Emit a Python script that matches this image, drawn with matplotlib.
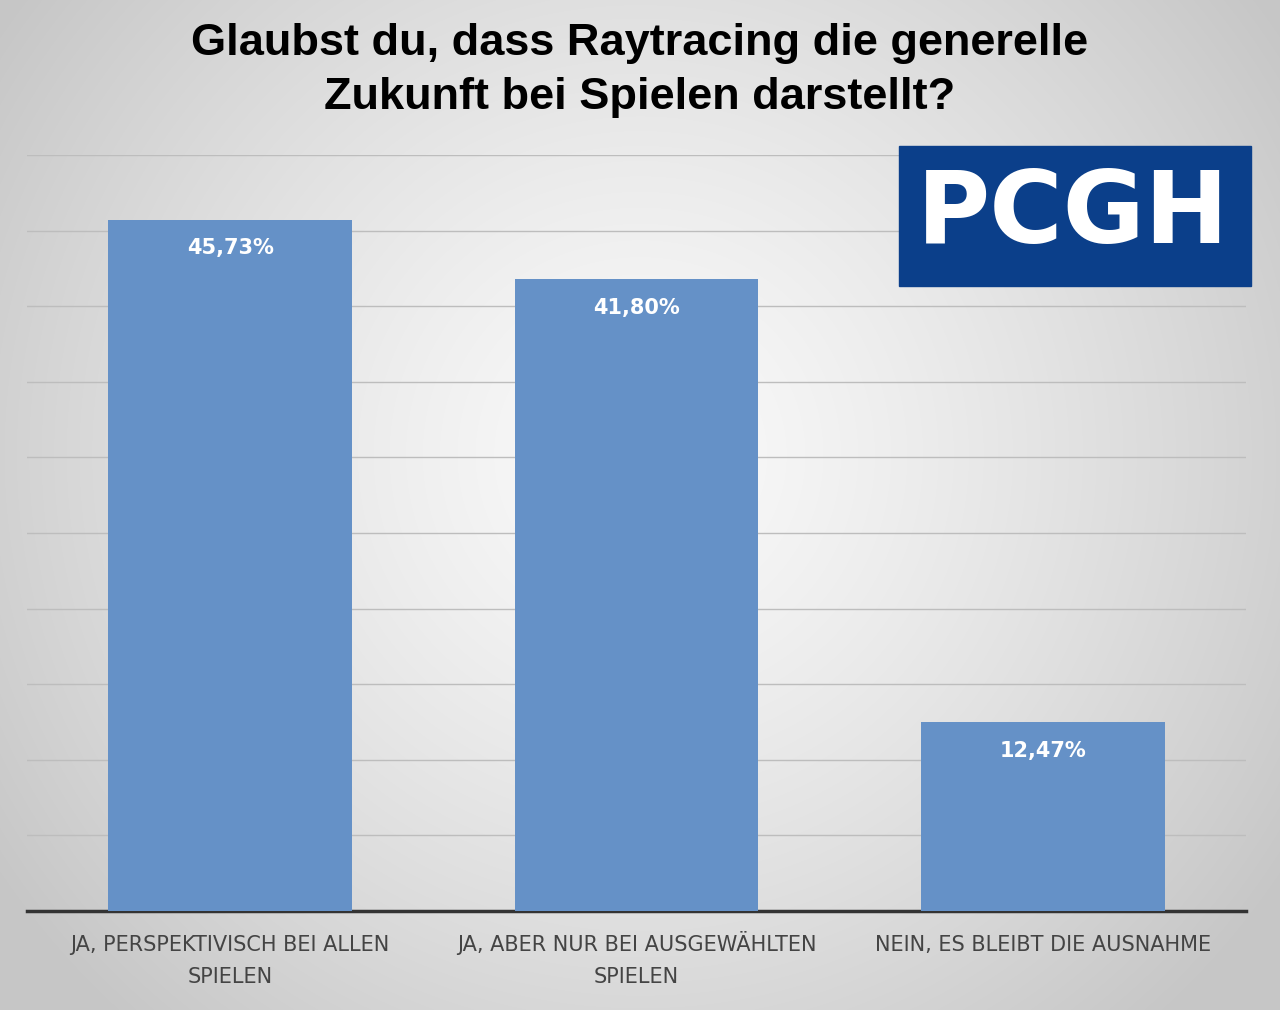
import numpy as np
import matplotlib
matplotlib.use("Agg")
import matplotlib.pyplot as plt
from matplotlib.patches import Rectangle

categories = ["JA, PERSPEKTIVISCH BEI ALLEN\nSPIELEN", "JA, ABER NUR BEI AUSGEWÄHLTEN\nSPIELEN", "NEIN, ES BLEIBT DIE AUSNAHME"]
values = [45.73, 41.80, 12.47]
labels = ["45,73%", "41,80%", "12,47%"]

W, H = 1280, 1010
fig = plt.figure(figsize=(W/100, H/100), dpi=100)
bg = fig.add_axes([0, 0, 1, 1], zorder=-10)
yy, xx = np.mgrid[0:H, 0:W]
r = np.sqrt(((xx - W/2)/(W*0.6))**2 + ((yy - H*0.45)/(H*0.75))**2)
g = 0.98 - 0.2*np.clip(r, 0, 1)**1.3
bg.imshow(np.dstack([g, g, g]), aspect='auto', extent=[0, 1, 0, 1])
bg.axis('off')

ax = fig.add_axes([27/W, 1-911/H, (1246-27)/W, (911-155)/H])
ax.patch.set_alpha(0)
x = np.arange(len(values))
ax.bar(x, values, width=0.6, color="#6591c7", zorder=3)
ax.set_xlim(-0.5, 2.5)
ax.set_ylim(0, 50)
ax.set_yticks(np.arange(0, 51, 5))
ax.yaxis.grid(True, color="#bdbdbd", linewidth=1)
ax.tick_params(left=False, labelleft=False, bottom=False)
ax.set_xticks(x)
ax.set_xticklabels([])
for s in ["top", "right", "left"]:
    ax.spines[s].set_visible(False)
ax.spines["bottom"].set_color("#333333")
ax.spines["bottom"].set_linewidth(2.5)
for xi, v, l in zip(x, values, labels):
    ax.text(xi, v - 1.9, l, ha="center", va="center", color="white", fontsize=15, fontweight="bold", zorder=4)

tr = ax.get_xaxis_transform()
for xi, cat in zip(x, categories):
    for i, line in enumerate(cat.split("\n")):
        ybase = 1 - (951 + 32*i)/H
        ax.text(xi, 0, line, transform=matplotlib.transforms.blended_transform_factory(ax.transData, fig.transFigure),
                ha="center", va="baseline", fontsize=15, color="#444444")
        ax.texts[-1].set_y(ybase)

fig.text(0.5, 1-43/H, "Glaubst du, dass Raytracing die generelle", ha="center", va="center",
         fontsize=32.5, fontweight="bold", family="Liberation Sans")
fig.text(0.5, 1-97/H, "Zukunft bei Spielen darstellt?", ha="center", va="center",
         fontsize=32.5, fontweight="bold", family="Liberation Sans")

fig.patches.append(Rectangle((899/W, 1-286/H), (1251-899)/W, (286-146)/H,
                             transform=fig.transFigure, color="#0b3f8a", zorder=5))
fig.text(1073/W, 1-216/H, "PCGH", ha="center", va="center", color="white",
         fontsize=72, fontweight="bold", family="DejaVu Sans", zorder=6)

fig.savefig("out.png", dpi=100)
